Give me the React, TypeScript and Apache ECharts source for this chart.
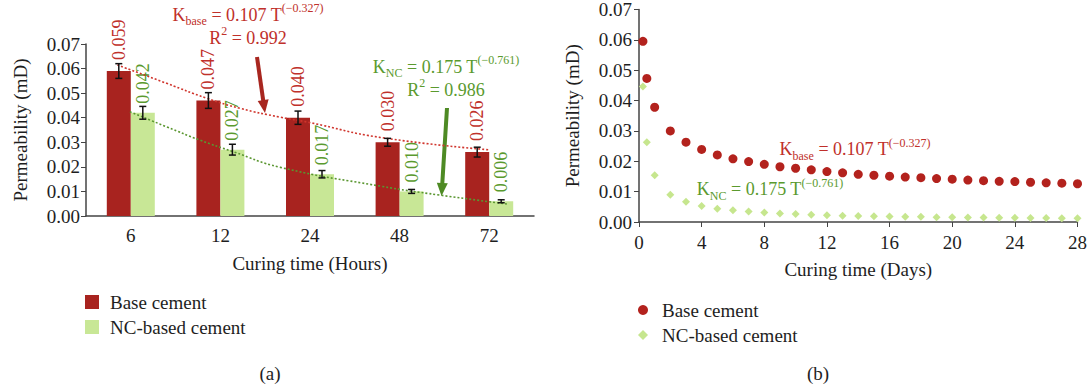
import React, { useEffect, useRef } from 'react';
import * as echarts from 'echarts';

const FONT = 'Liberation Serif';

// ---- (a) data ----
const hourCategories = ['6', '12', '24', '48', '72'];
const baseHours = [0.059, 0.047, 0.040, 0.030, 0.026];
const ncHours = [0.042, 0.027, 0.017, 0.010, 0.006];
const baseErr = [0.003, 0.0032, 0.0027, 0.0016, 0.002];
const ncErr = [0.0026, 0.0022, 0.0015, 0.0008, 0.0006];
// dotted trend lines (x in category-band units, 0..5)
const baseTrend = [[0.35, 0.0615], [0.9, 0.054], [1.35, 0.0479], [1.72, 0.0438], [2.17, 0.0402], [2.5, 0.038], [3.28, 0.032], [4.51, 0.0269]];
const ncTrend = [[0.49, 0.0424], [0.9, 0.0363], [1.27, 0.0309], [1.64, 0.0262], [2.17, 0.0198], [3.28, 0.0122], [3.95, 0.0085], [4.7, 0.0049]];

// ---- (b) data ----
const days = [0.25, 0.5, 1, 2, 3, 4, 5, 6, 7, 8, 9, 10, 11, 12, 13, 14, 15, 16, 17, 18, 19, 20, 21, 22, 23, 24, 25, 26, 27, 28];
const baseDays = [0.0595, 0.0473, 0.0378, 0.0300, 0.0263, 0.0239, 0.0221, 0.0208, 0.0199, 0.0190, 0.0182, 0.0177, 0.0172, 0.0166, 0.0162, 0.0157, 0.0154, 0.0151, 0.0148, 0.0146, 0.0143, 0.0141, 0.0138, 0.0136, 0.0134, 0.0133, 0.0131, 0.0129, 0.0128, 0.0126];
const ncDays = [0.0446, 0.0263, 0.0154, 0.0090, 0.0067, 0.0053, 0.0044, 0.0039, 0.0035, 0.0031, 0.0028, 0.0026, 0.0024, 0.0022, 0.0021, 0.0020, 0.0019, 0.0018, 0.0017, 0.0017, 0.0016, 0.0016, 0.0015, 0.0015, 0.0014, 0.0014, 0.0013, 0.0013, 0.0012, 0.0012];

const RED_BAR = '#a8231f';
const GREEN_BAR = '#c8e796';
const RED_TXT = '#c0302a';
const GREEN_TXT = '#5a9a2e';
const RED_ARROW = '#a8261f';
const GREEN_ARROW = '#4e8a24';
const AXIS = '#444';
const TXT = '#1e1e1e';

const rich = (color: string) => ({
  m: { fontSize: 18, fontFamily: FONT, fill: color, lineHeight: 23 },
  sub: { fontSize: 12, fontFamily: FONT, fill: color, lineHeight: 10, padding: [13, 0, 0, 0] },
  sup: { fontSize: 12, fontFamily: FONT, fill: color, lineHeight: 10, padding: [0, 0, 13, 0] },
});

function arrow(x1: number, y1: number, x2: number, y2: number, color: string) {
  const dx = x2 - x1, dy = y2 - y1;
  const L = Math.hypot(dx, dy);
  const ux = dx / L, uy = dy / L;
  const px = -uy, py = ux;
  const headLen = 13, headW = 11;
  const bx = x2 - ux * headLen, by = y2 - uy * headLen;
  return [
    { type: 'line', shape: { x1, y1, x2: bx + ux, y2: by + uy }, style: { stroke: color, lineWidth: 4 } },
    {
      type: 'polygon',
      shape: { points: [[x2, y2], [bx + px * headW / 2, by + py * headW / 2], [bx - px * headW / 2, by - py * headW / 2]] },
      style: { fill: color },
    },
  ];
}

function errSeries(values: number[], errs: number[], offset: number) {
  return {
    type: 'custom',
    xAxisIndex: 0,
    yAxisIndex: 0,
    z: 5,
    data: values.map((v, i) => [i, v, errs[i]]),
    encode: { x: 0, y: 1 },
    renderItem: (params: any, api: any) => {
      const i = api.value(0), v = api.value(1), e = api.value(2);
      const top = api.coord([i, v + e]);
      const bot = api.coord([i, v - e]);
      const x = top[0] + offset;
      const st = { stroke: '#111', lineWidth: 1.5 };
      return {
        type: 'group',
        children: [
          { type: 'line', shape: { x1: x, y1: top[1], x2: x, y2: bot[1] }, style: st },
          { type: 'line', shape: { x1: x - 3.5, y1: top[1], x2: x + 3.5, y2: top[1] }, style: st },
          { type: 'line', shape: { x1: x - 3.5, y1: bot[1], x2: x + 3.5, y2: bot[1] }, style: st },
        ],
      };
    },
  };
}

const axisLabelStyle = { fontSize: 19, fontFamily: FONT, color: TXT };

function leftOption(): any {
  return {
    animation: false,
    textStyle: { fontFamily: FONT },
    grid: { left: 86, top: 44, width: 448, height: 172 },
    legend: {
      orient: 'vertical',
      left: 85,
      top: 292,
      padding: 0,
      itemWidth: 14,
      itemHeight: 14,
      itemGap: 5,
      textStyle: { ...axisLabelStyle, lineHeight: 20, padding: [0, 0, 0, 6] },
      data: [{ name: 'Base cement', icon: 'rect' }, { name: 'NC-based cement', icon: 'rect' }],
    },
    xAxis: [
      {
        type: 'category',
        data: hourCategories,
        axisLine: { lineStyle: { color: AXIS, width: 1.5 } },
        axisTick: { alignWithLabel: true, length: 5, lineStyle: { color: AXIS } },
        axisLabel: { ...axisLabelStyle, margin: 10 },
        name: 'Curing time (Hours)',
        nameLocation: 'middle',
        nameGap: 38,
        nameTextStyle: { ...axisLabelStyle, verticalAlign: 'top' },
      },
      { type: 'value', min: 0, max: 5, show: false },
    ],
    yAxis: {
      type: 'value',
      min: 0,
      max: 0.07,
      interval: 0.01,
      splitLine: { show: false },
      axisLine: { show: true, lineStyle: { color: AXIS, width: 1.5 } },
      axisTick: { show: true, length: 5, lineStyle: { color: AXIS } },
      axisLabel: { ...axisLabelStyle, margin: 6, formatter: (v: number) => v.toFixed(2) },
      name: 'Permeability (mD)',
      nameLocation: 'middle',
      nameGap: 56,
      nameTextStyle: axisLabelStyle,
    },
    series: [
      {
        name: 'Base cement',
        type: 'bar',
        data: baseHours,
        barWidth: 24,
        barGap: '0%',
        itemStyle: { color: RED_BAR },
        label: {
          show: true,
          position: 'top',
          distance: 11,
          rotate: 90,
          align: 'left',
          verticalAlign: 'middle',
          fontSize: 18,
          fontFamily: FONT,
          color: RED_TXT,
          formatter: (p: any) => p.value.toFixed(3),
        },
      },
      {
        name: 'NC-based cement',
        type: 'bar',
        data: ncHours,
        barWidth: 24,
        barGap: '0%',
        itemStyle: { color: GREEN_BAR },
        label: {
          show: true,
          position: 'top',
          distance: 9,
          rotate: 90,
          align: 'left',
          verticalAlign: 'middle',
          fontSize: 18,
          fontFamily: FONT,
          color: GREEN_TXT,
          formatter: (p: any) => p.value.toFixed(3),
        },
      },
      errSeries(baseHours, baseErr, -12),
      errSeries(ncHours, ncErr, 12),
      {
        type: 'line',
        xAxisIndex: 1,
        data: baseTrend,
        smooth: true,
        symbol: 'none',
        z: 4,
        lineStyle: { color: '#d0352d', width: 1.6, type: [2, 2] },
      },
      {
        type: 'line',
        xAxisIndex: 1,
        data: ncTrend,
        smooth: true,
        symbol: 'none',
        z: 4,
        lineStyle: { color: '#5a9630', width: 1.6, type: [2, 2] },
      },
    ],
    graphic: [
      {
        type: 'text',
        x: 248,
        y: 3,
        z: 10,
        style: {
          text: '{m|K}{sub|base}{m| = 0.107 T}{sup|(−0.327)}\n{m|R}{sup|2}{m| = 0.992}',
          rich: rich(RED_TXT),
          fill: RED_TXT,
          align: 'center',
          verticalAlign: 'top',
        },
      },
      {
        type: 'text',
        x: 446,
        y: 55,
        z: 10,
        style: {
          text: '{m|K}{sub|NC}{m| = 0.175 T}{sup|(−0.761)}\n{m|R}{sup|2}{m| = 0.986}',
          rich: rich(GREEN_TXT),
          fill: GREEN_TXT,
          align: 'center',
          verticalAlign: 'top',
        },
      },
      ...arrow(257, 57, 265, 113, RED_ARROW),
      ...arrow(447, 108, 441.5, 196, GREEN_ARROW),
      {
        type: 'text',
        x: 270,
        y: 373,
        style: { text: '(a)', font: `19px ${FONT}`, fill: TXT, align: 'center', verticalAlign: 'middle' },
      },
    ],
  };
}

function rightOption(): any {
  return {
    animation: false,
    textStyle: { fontFamily: FONT },
    grid: { left: 94, top: 7, width: 439, height: 215 },
    legend: {
      orient: 'vertical',
      left: 93,
      top: 300,
      padding: 0,
      itemWidth: 10,
      itemHeight: 10,
      itemGap: 5,
      textStyle: { ...axisLabelStyle, lineHeight: 20, padding: [0, 0, 0, 9] },
      data: [{ name: 'Base cement', icon: 'circle' }, { name: 'NC-based cement', icon: 'diamond' }],
    },
    xAxis: {
      type: 'value',
      min: 0,
      max: 28,
      interval: 4,
      splitLine: { show: false },
      axisLine: { onZero: false, lineStyle: { color: AXIS, width: 1.5 } },
      axisTick: { show: true, length: 5, lineStyle: { color: AXIS } },
      axisLabel: { ...axisLabelStyle, margin: 11 },
      name: 'Curing time (Days)',
      nameLocation: 'middle',
      nameGap: 38,
      nameTextStyle: { ...axisLabelStyle, verticalAlign: 'top' },
    },
    yAxis: {
      type: 'value',
      min: 0,
      max: 0.07,
      interval: 0.01,
      splitLine: { show: false },
      axisLine: { show: true, lineStyle: { color: AXIS, width: 1.5 } },
      axisTick: { show: true, length: 5, lineStyle: { color: AXIS } },
      axisLabel: { ...axisLabelStyle, margin: 7, formatter: (v: number) => v.toFixed(2) },
      name: 'Permeability (mD)',
      nameLocation: 'middle',
      nameGap: 57,
      nameTextStyle: axisLabelStyle,
    },
    series: [
      {
        name: 'Base cement',
        type: 'scatter',
        data: days.map((d, i) => [d, baseDays[i]]),
        symbol: 'circle',
        symbolSize: 9,
        itemStyle: { color: '#b3221d', opacity: 1 },
      },
      {
        name: 'NC-based cement',
        type: 'scatter',
        data: days.map((d, i) => [d, ncDays[i]]),
        symbol: 'diamond',
        symbolSize: 8,
        itemStyle: { color: '#c6e68e', opacity: 1 },
      },
    ],
    graphic: [
      {
        type: 'text',
        x: 310,
        y: 149,
        z: 10,
        style: {
          text: '{m|K}{sub|base}{m| = 0.107 T}{sup|(−0.327)}',
          rich: rich(RED_TXT),
          fill: RED_TXT,
          align: 'center',
          verticalAlign: 'middle',
        },
      },
      {
        type: 'text',
        x: 225,
        y: 189,
        z: 10,
        style: {
          text: '{m|K}{sub|NC}{m| = 0.175 T}{sup|(−0.761)}',
          rich: rich(GREEN_TXT),
          fill: GREEN_TXT,
          align: 'center',
          verticalAlign: 'middle',
        },
      },
      {
        type: 'text',
        x: 273,
        y: 373,
        style: { text: '(b)', font: `19px ${FONT}`, fill: TXT, align: 'center', verticalAlign: 'middle' },
      },
    ],
  };
}

function Chart({ left, width, option }: { left: number; width: number; option: any }) {
  const ref = useRef<HTMLDivElement>(null);
  useEffect(() => {
    if (!ref.current) return;
    const chart = echarts.init(ref.current, undefined, { renderer: 'svg' });
    chart.setOption(option);
    return () => chart.dispose();
  }, []);
  return <div ref={ref} style={{ position: 'absolute', top: 0, left, width, height: 391 }} />;
}

export default function App() {
  return (
    <div style={{ position: 'absolute', top: 0, left: 0, width: 1090, height: 391, background: '#fff' }}>
      <Chart left={0} width={545} option={leftOption()} />
      <Chart left={545} width={545} option={rightOption()} />
    </div>
  );
}
